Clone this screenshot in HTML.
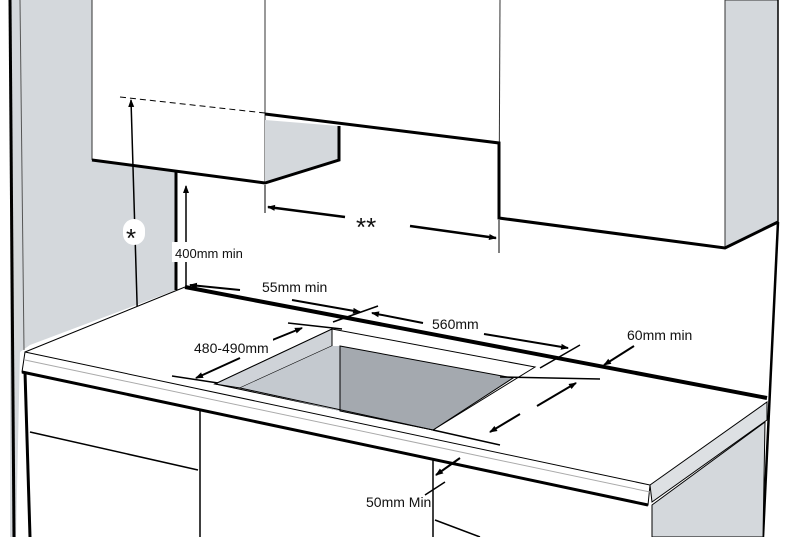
<!DOCTYPE html>
<html><head><meta charset="utf-8"><style>html,body{margin:0;padding:0;background:#fff}svg{display:block}text{font-family:"Liberation Sans",sans-serif;font-size:13px;fill:#111}</style></head>
<body>
<svg width="800" height="537" viewBox="0 0 800 537" xmlns="http://www.w3.org/2000/svg">
<defs><marker id="a" markerWidth="8" markerHeight="8" refX="7" refY="4" orient="auto" markerUnits="userSpaceOnUse"><path d="M0,1 L8,4 L0,7z" fill="#000"/></marker></defs>
<polygon points="10,0 92,0 92,160 176,172 176,290 30,345 20,352 16,537 10,537" fill="#d4d8dc"/>
<line x1="10" y1="0" x2="14" y2="537" stroke="#000" stroke-width="3"/>
<line x1="20" y1="0" x2="24" y2="350" stroke="#555" stroke-width="1"/>
<polygon points="725,0 778,0 778,222 725,248" fill="#d4d8dc" stroke="#333" stroke-width="1"/>
<line x1="778" y1="0" x2="778" y2="222" stroke="#000" stroke-width="1.5"/>
<line x1="778" y1="222" x2="763" y2="537" stroke="#000" stroke-width="2.5"/>
<line x1="92" y1="0" x2="92" y2="160" stroke="#333"/>
<line x1="265" y1="0" x2="265" y2="183" stroke="#333"/>
<line x1="500" y1="0" x2="499" y2="218" stroke="#333"/>
<line x1="725" y1="0" x2="725" y2="248" stroke="#333"/>
<polygon points="265,120 339,126 339,160 265,183" fill="#d4d8dc"/>
<polyline points="92,160 265,183 339,160 339,126" fill="none" stroke="#000" stroke-width="3"/>
<polyline points="265,114 499,143 499,218 725,248 778,222" fill="none" stroke="#000" stroke-width="3"/>
<line x1="120" y1="97" x2="265" y2="113" stroke="#000" stroke-width="1" stroke-dasharray="6,4"/>
<line x1="265" y1="185" x2="265" y2="213" stroke="#000"/>
<line x1="499" y1="220" x2="499" y2="253" stroke="#000"/>
<line x1="345" y1="217" x2="268" y2="207" stroke="#000" stroke-width="2.5" marker-end="url(#a)"/>
<line x1="410" y1="226" x2="496" y2="238" stroke="#000" stroke-width="2.5" marker-end="url(#a)"/>
<text x="356" y="236" style="font-size:26px">**</text>
<line x1="138" y1="335" x2="131" y2="100" stroke="#000" stroke-width="1.5" marker-end="url(#a)"/>
<rect x="123" y="219" width="22" height="26" rx="11" fill="#fff"/>
<text x="126" y="247" style="font-size:26px">*</text>
<line x1="176" y1="172" x2="176" y2="290" stroke="#000" stroke-width="3"/>
<line x1="186" y1="348" x2="186" y2="186" stroke="#000" stroke-width="1.5" marker-end="url(#a)"/>
<rect x="172" y="242" width="82" height="20" fill="#fff"/>
<text x="175" y="258">400mm min</text>
<polygon points="185,287 767,398 767,402 650,485 25,352" fill="#fff"/>
<polygon points="25,352 650,485 648,505 22,372" fill="#fff" stroke="#000" stroke-width="1"/>
<line x1="22" y1="372" x2="648" y2="505" stroke="#000" stroke-width="3"/>
<line x1="25" y1="360" x2="650" y2="492" stroke="#aaa" stroke-width="1"/>
<polygon points="650,485 767,402 767,420 652,502" fill="#dde0e3" stroke="#000" stroke-width="1"/>
<polygon points="652,505 765,422 763,537 652,537" fill="#d4d8dc" stroke="#000" stroke-width="1"/>
<line x1="185" y1="287" x2="767" y2="398" stroke="#000" stroke-width="4"/>
<line x1="185" y1="287" x2="25" y2="352" stroke="#000" stroke-width="1"/>
<polygon points="332,329 535,367 433,430 215,384" fill="#fff" stroke="#000" stroke-width="1"/>
<polygon points="215,384 332,329 332,346 240,388" fill="#cfd3d8" stroke="#000" stroke-width="1"/>
<polygon points="240,388 332,346 340,346 340,411" fill="#c4c9cf"/>
<polygon points="340,346 513,378 433,430 340,411" fill="#a4a9af" stroke="#000" stroke-width="1"/>
<line x1="240" y1="388" x2="433" y2="430" stroke="#000"/>
<line x1="25" y1="372" x2="30" y2="537" stroke="#000" stroke-width="3"/>
<line x1="200" y1="410" x2="200" y2="537" stroke="#000" stroke-width="1.5"/>
<line x1="433" y1="460" x2="433" y2="537" stroke="#000" stroke-width="1.5"/>
<line x1="30" y1="432" x2="198" y2="470" stroke="#000" stroke-width="1.5"/>
<line x1="435" y1="520" x2="480" y2="537" stroke="#000" stroke-width="1.5"/>
<line x1="240" y1="290" x2="190" y2="285" stroke="#000" stroke-width="2" marker-end="url(#a)"/>
<text x="262" y="292" style="font-size:14px">55mm min</text>
<line x1="292" y1="300" x2="360" y2="312" stroke="#000" stroke-width="2" marker-end="url(#a)"/>
<line x1="333" y1="322" x2="378" y2="306" stroke="#000" stroke-width="1.5"/>
<line x1="423" y1="323" x2="372" y2="313" stroke="#000" stroke-width="2" marker-end="url(#a)"/>
<text x="432" y="329" style="font-size:14px">560mm</text>
<line x1="484" y1="334" x2="568" y2="348" stroke="#000" stroke-width="2" marker-end="url(#a)"/>
<line x1="540" y1="368" x2="580" y2="345" stroke="#000" stroke-width="1.5"/>
<line x1="288" y1="323" x2="342" y2="329" stroke="#000" stroke-width="1.5"/>
<line x1="260" y1="345" x2="302" y2="328" stroke="#000" stroke-width="2" marker-end="url(#a)"/>
<line x1="240" y1="358" x2="196" y2="378" stroke="#000" stroke-width="2" marker-end="url(#a)"/>
<line x1="172" y1="376" x2="218" y2="383" stroke="#000" stroke-width="1.5"/>
<rect x="193" y="338" width="80" height="16" fill="#fff"/>
<text x="194" y="353" style="font-size:14px">480-490mm</text>
<line x1="500" y1="377" x2="600" y2="379" stroke="#000" stroke-width="1.5"/>
<line x1="537" y1="406" x2="576" y2="383" stroke="#000" stroke-width="2" marker-end="url(#a)"/>
<line x1="520" y1="414" x2="490" y2="432" stroke="#000" stroke-width="2" marker-end="url(#a)"/>
<line x1="433" y1="430" x2="500" y2="445" stroke="#000" stroke-width="1.5"/>
<line x1="634" y1="346" x2="604" y2="365" stroke="#000" stroke-width="2" marker-end="url(#a)"/>
<text x="627" y="340" style="font-size:14px">60mm min</text>
<line x1="445" y1="482" x2="425" y2="495" stroke="#000" stroke-width="1.5"/>
<line x1="460" y1="458" x2="436" y2="475" stroke="#000" stroke-width="2" marker-end="url(#a)"/>
<text x="366" y="507" style="font-size:14px">50mm Min</text>
</svg>
</body></html>
